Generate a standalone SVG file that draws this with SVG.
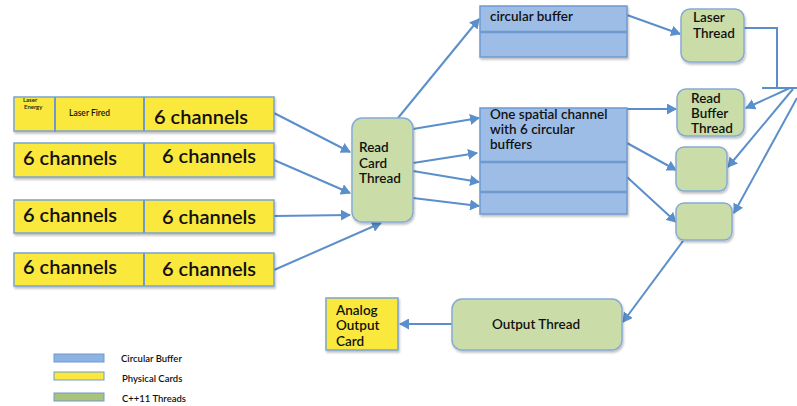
<svg xmlns="http://www.w3.org/2000/svg" width="797" height="406" viewBox="0 0 797 406">
<defs>
<style>
.card{fill:#FBE83C;stroke:#7BA3D0;stroke-width:1.5}
.buf{fill:#9DBDE6;stroke:#6E9AD0;stroke-width:1.5}
.thr{fill:#CADDA8;stroke:#86AAD6;stroke-width:1.5}
.div{stroke:#6E9AD0;stroke-width:2.5}
.cdiv{stroke:#6E9AD0;stroke-width:2}
.conn{fill:none;stroke:#5B8FCB;stroke-width:2}
text{font-family:Lato,"Open Sans","Liberation Sans",sans-serif;fill:#111;font-weight:600}
.big{font-size:20px}
.mid{font-size:13.5px}
.sm{font-size:8.5px}
.xs{font-size:6px}
.leg{font-size:9.5px}
</style>
<marker id="ah" markerWidth="11" markerHeight="11" refX="9" refY="5.5" orient="auto" markerUnits="userSpaceOnUse">
<path d="M0,0 L10,5.5 L0,11 Z" fill="#5B8FCB"/>
</marker>
<filter id="sh" x="-10%" y="-10%" width="130%" height="140%">
<feDropShadow dx="1" dy="2" stdDeviation="1.2" flood-color="#000" flood-opacity="0.25"/>
</filter>
</defs>

<g id="connectors">
<line class="conn" x1="274" y1="113" x2="350" y2="152" marker-end="url(#ah)"/>
<line class="conn" x1="274" y1="160" x2="350" y2="193" marker-end="url(#ah)"/>
<line class="conn" x1="274" y1="216" x2="350" y2="215" marker-end="url(#ah)"/>
<line class="conn" x1="274" y1="270" x2="381" y2="223" marker-end="url(#ah)"/>
<line class="conn" x1="398" y1="118" x2="479" y2="19" marker-end="url(#ah)"/>
<line class="conn" x1="413" y1="129" x2="479" y2="118" marker-end="url(#ah)"/>
<line class="conn" x1="413" y1="163" x2="477" y2="153" marker-end="url(#ah)"/>
<line class="conn" x1="413" y1="171" x2="479" y2="182" marker-end="url(#ah)"/>
<line class="conn" x1="413" y1="198" x2="479" y2="206" marker-end="url(#ah)"/>
<line class="conn" x1="627" y1="15" x2="680" y2="34" marker-end="url(#ah)"/>
<line class="conn" x1="627" y1="109" x2="676" y2="109" marker-end="url(#ah)"/>
<line class="conn" x1="627" y1="143" x2="676" y2="170" marker-end="url(#ah)"/>
<line class="conn" x1="627" y1="177" x2="676" y2="222" marker-end="url(#ah)"/>
<polyline class="conn" points="744,28 777,28 777,88"/>
<line class="conn" x1="762" y1="88" x2="797" y2="88"/>
<line class="conn" x1="790" y1="88" x2="746" y2="108" marker-end="url(#ah)"/>
<line class="conn" x1="793" y1="89" x2="728" y2="167" marker-end="url(#ah)"/>
<line class="conn" x1="797" y1="98" x2="734" y2="213" marker-end="url(#ah)"/>
<line class="conn" x1="683" y1="241" x2="623" y2="322" marker-end="url(#ah)"/>
<line class="conn" x1="452" y1="324" x2="400" y2="324" marker-end="url(#ah)"/>
</g>

<g id="card1">
<rect class="card" x="14" y="97" width="260" height="34" filter="url(#sh)"/>
<line class="cdiv" x1="55" y1="97" x2="55" y2="132"/>
<line class="cdiv" x1="144" y1="97" x2="144" y2="131"/>
<text class="xs" x="23" y="102">Laser</text>
<text class="xs" x="24" y="109">Energy</text>
<text class="sm" x="69" y="116">Laser Fired</text>
<text class="big" x="154" y="124">6 channels</text>
</g>
<g id="card2">
<rect class="card" x="14" y="143" width="260" height="34" filter="url(#sh)"/>
<line class="cdiv" x1="144" y1="143" x2="144" y2="177"/>
<text class="big" x="23" y="165">6 channels</text>
<text class="big" x="162" y="163">6 channels</text>
</g>
<g id="card3">
<rect class="card" x="14" y="200" width="260" height="33" filter="url(#sh)"/>
<line class="cdiv" x1="144" y1="200" x2="144" y2="233"/>
<text class="big" x="23" y="222">6 channels</text>
<text class="big" x="162" y="224">6 channels</text>
</g>
<g id="card4">
<rect class="card" x="14" y="253" width="260" height="33" filter="url(#sh)"/>
<line class="cdiv" x1="144" y1="253" x2="144" y2="286"/>
<text class="big" x="23" y="274">6 channels</text>
<text class="big" x="162" y="276">6 channels</text>
</g>

<g id="readCard">
<rect class="thr" x="352" y="118" width="61" height="104" rx="10" filter="url(#sh)"/>
<text class="mid" x="359" y="152">Read</text>
<text class="mid" x="359" y="168">Card</text>
<text class="mid" x="359" y="183">Thread</text>
</g>

<g id="circBuffer">
<rect class="buf" x="480" y="6" width="147" height="51" filter="url(#sh)"/>
<line class="div" x1="480" y1="32" x2="627" y2="32"/>
<text class="mid" x="490" y="21">circular buffer</text>
</g>

<g id="spatial">
<rect class="buf" x="480" y="108" width="147" height="106" filter="url(#sh)"/>
<line class="div" x1="480" y1="162" x2="627" y2="162"/>
<line class="div" x1="480" y1="192" x2="627" y2="192"/>
<text class="mid" x="490" y="119">One spatial channel</text>
<text class="mid" x="490" y="134">with 6 circular</text>
<text class="mid" x="490" y="149">buffers</text>
</g>

<g id="laserThread">
<rect class="thr" x="681" y="9" width="63" height="53" rx="9" filter="url(#sh)"/>
<text class="mid" x="693" y="22">Laser</text>
<text class="mid" x="693" y="38">Thread</text>
</g>

<g id="readBuffer">
<rect class="thr" x="677" y="89" width="67" height="47" rx="9" filter="url(#sh)"/>
<text class="mid" x="691" y="103">Read</text>
<text class="mid" x="691" y="118">Buffer</text>
<text class="mid" x="691" y="133">Thread</text>
</g>

<g id="thread3">
<rect class="thr" x="676" y="147" width="51" height="44" rx="8" filter="url(#sh)"/>
</g>

<g id="thread4">
<rect class="thr" x="676" y="203" width="56" height="37" rx="8" filter="url(#sh)"/>
</g>

<g id="outputThread">
<rect class="thr" x="452" y="299" width="170" height="51" rx="10" filter="url(#sh)"/>
<text class="mid" x="536" y="329" text-anchor="middle">Output Thread</text>
</g>

<g id="analogCard">
<rect class="card" x="326" y="298" width="72" height="52" filter="url(#sh)"/>
<text class="mid" x="336" y="315">Analog</text>
<text class="mid" x="336" y="330">Output</text>
<text class="mid" x="336" y="346">Card</text>
</g>

<g id="legend">
<rect x="54" y="354" width="50" height="8" fill="#8DB3E2" stroke="#6E9AD0" stroke-width="1"/>
<rect x="54" y="372" width="50" height="8" fill="#FBE83C" stroke="#6E9AD0" stroke-width="1"/>
<rect x="54" y="393" width="50" height="8" fill="#A8C47A" stroke="#6E9AD0" stroke-width="1"/>
<text class="leg" x="121" y="362">Circular Buffer</text>
<text class="leg" x="122" y="382">Physical Cards</text>
<text class="leg" x="122" y="402">C++11 Threads</text>
</g>
</svg>
